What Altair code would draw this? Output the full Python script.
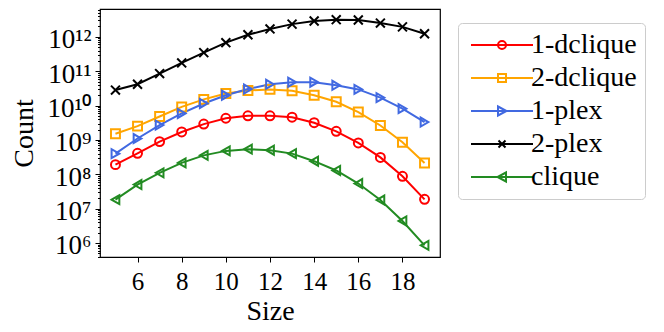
import altair as alt
import pandas as pd

sizes = list(range(5, 20))
series = ["1-dclique", "2-dclique", "1-plex", "2-plex", "clique"]
colors = ["#ff0000", "#ffa500", "#4169e1", "#000000", "#228b22"]

# log10 of counts
log_1dclique = [8.28, 8.61, 8.95, 9.23, 9.46, 9.63, 9.70, 9.70, 9.66, 9.50, 9.25, 8.91, 8.49, 7.94, 7.27]
log_2dclique = [9.18, 9.40, 9.68, 9.96, 10.18, 10.35, 10.44, 10.47, 10.43, 10.30, 10.11, 9.81, 9.42, 8.93, 8.33]
log_1plex = [8.60, 9.04, 9.43, 9.77, 10.06, 10.30, 10.48, 10.62, 10.68, 10.68, 10.59, 10.47, 10.23, 9.91, 9.52]
log_2plex = [10.45, 10.62, 10.93, 11.24, 11.54, 11.83, 12.06, 12.23, 12.37, 12.46, 12.50, 12.49, 12.40, 12.29, 12.09]
log_clique = [7.26, 7.70, 8.04, 8.33, 8.55, 8.68, 8.73, 8.70, 8.60, 8.38, 8.11, 7.73, 7.25, 6.64, 5.93]

x_ticks = [6, 8, 10, 12, 14, 16, 18]
decades = [6, 7, 8, 9, 10, 11, 12]

rows = []
for name, vals in zip(series, [log_1dclique, log_2dclique, log_1plex, log_2plex, log_clique]):
    for s, v in zip(sizes, vals):
        rows.append({"Size": s, "Count": 10 ** v, "series": name})
df = pd.DataFrame(rows)

y_values = []
for k in range(5, 13):
    for m in range(1, 10):
        v = m * 10 ** k
        if 3.9e5 <= v <= 6.4e12:
            y_values.append(v)

sup = {"0": "\u2070", "1": "\u00b9", "2": "\u00b2", "3": "\u00b3", "4": "\u2074",
       "5": "\u2075", "6": "\u2076", "7": "\u2077", "8": "\u2078", "9": "\u2079"}
expo = "round(log(datum.value)/LN10)"
is_dec = f"abs(datum.value/pow(10,{expo})-1)<1e-6"
label_expr = "''"
for d in decades:
    lab = "10" + "".join(sup[c] for c in str(d))
    label_expr = f"({is_dec} && {expo}=={d}) ? '{lab}' : " + label_expr

FONT = "Liberation Serif"

x_enc = alt.X("Size:Q", scale=alt.Scale(domain=[4.3, 19.7], nice=False, zero=False),
              axis=alt.Axis(values=x_ticks, title="Size", grid=False,
                            labelFont=FONT, labelFontSize=25, titleFont=FONT, titleFontSize=28,
                            labelPadding=7, titlePadding=3))
y_enc = alt.Y("Count:Q", scale=alt.Scale(type="log", domain=[3.9e5, 6.46e12], nice=False),
              axis=alt.Axis(values=y_values, labelExpr=label_expr, title="Count", grid=False,
                            labelOverlap=False, labelOffset=3, labelPadding=4,
                            labelFont=FONT, labelFontSize=27, titleFont=FONT, titleFontSize=28,
                            titlePadding=8,
                            tickSize={"condition": {"test": is_dec, "value": 5}, "value": 2.5}))

plot_shapes = ["circle", "square", "triangle-right", "M-1,-1L1,1M-1,1L1,-1", "triangle-left"]
legend_shapes = [
    "M-3.1,0L3.1,0M0.4,0A0.4,0.4,0,1,1,-0.4,0A0.4,0.4,0,1,1,0.4,0",
    "M-3.1,0L3.1,0M-0.4,-0.4L0.4,-0.4L0.4,0.4L-0.4,0.4Z",
    "M-3.1,0L3.1,0M-0.4,-0.45L0.45,0L-0.4,0.45Z",
    "M-3.1,0L3.1,0M-0.35,-0.35L0.35,0.35M-0.35,0.35L0.35,-0.35",
    "M-3.1,0L3.1,0M0.4,-0.45L-0.45,0L0.4,0.45Z",
]

color_nolegend = alt.Color("series:N", scale=alt.Scale(domain=series, range=colors), legend=None)

base = alt.Chart(df)
lines = base.mark_line(strokeWidth=2).encode(x=x_enc, y=y_enc, color=color_nolegend,
                                              detail="series:N")
points = base.mark_point(filled=False, size=80, strokeWidth=2, opacity=1).encode(
    x=x_enc, y=y_enc, color=color_nolegend,
    shape=alt.Shape("series:N", scale=alt.Scale(domain=series, range=plot_shapes), legend=None))
leg = alt.Legend(orient="none", legendX=358, legendY=14, labelFont=FONT, labelFontSize=28,
                 labelColor="black", symbolOffset=22, labelOffset=15, symbolSize=400,
                 symbolStrokeWidth=2, padding=8, rowPadding=5, strokeColor="#cccccc",
                 fillColor="white", cornerRadius=4, labelLimit=220,
                 labelExpr="datum.label + '\u00a0\u00a0\u00a0'")
legend_layer = base.transform_filter("false").mark_point(filled=False, size=400, opacity=1).encode(
    x=x_enc, y=y_enc,
    color=alt.Color("series:N", scale=alt.Scale(domain=series, range=colors), title=None, legend=leg),
    shape=alt.Shape("series:N", scale=alt.Scale(domain=series, range=legend_shapes), title=None,
                    legend=leg))

chart = alt.layer(lines, points, legend_layer).resolve_scale(
    color="independent", shape="independent"
).properties(
    width=340, height=248,
    autosize=alt.AutoSizeParams(type="none"),
    padding={"left": 92, "top": 1, "right": 216, "bottom": 67},
).configure_view(stroke="black", strokeWidth=1.2).configure_axis(
    labelColor="black", titleColor="black", titleFontWeight="normal",
    domain=False, tickColor="black", tickWidth=1,
)

chart.save("out.html", embed_options={"renderer": "svg", "actions": False})
